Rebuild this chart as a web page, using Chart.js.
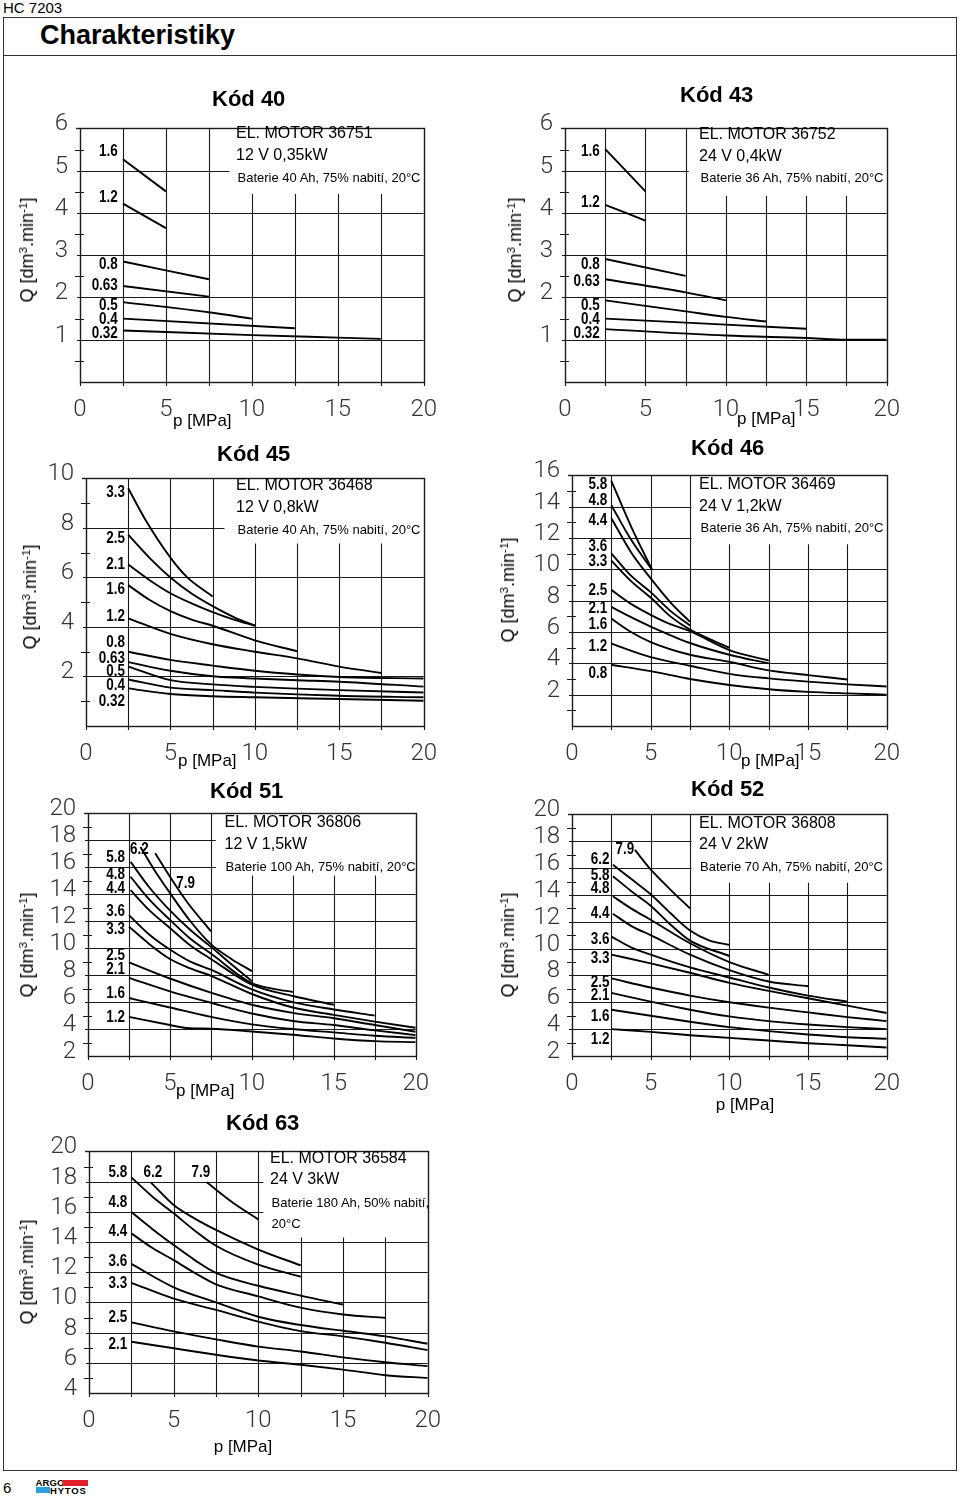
<!DOCTYPE html>
<html><head><meta charset="utf-8">
<script src="https://cdn.jsdelivr.net/npm/chart.js@4.4.0/dist/chart.umd.min.js"></script>
<style>
html,body{margin:0;padding:0;background:#fff}
body{width:960px;height:1501px;position:relative;overflow:hidden;font-family:'Liberation Sans',Arial,Helvetica,sans-serif;color:#000}
.t{position:absolute;white-space:nowrap;line-height:1}
.cv{position:absolute}
sup{font-size:65%;line-height:0;vertical-align:0.55em}
</style></head><body>
<div class="t" style="left:3px;top:0px;font-size:15px;">HC 7203</div>
<div style="position:absolute;left:3px;top:17px;width:952px;height:1452px;border:1.5px solid #333;box-sizing:content-box"></div>
<div style="position:absolute;left:3px;top:55px;width:954px;height:0;border-top:1.5px solid #333"></div>
<div class="t" style="left:40px;top:22px;font-size:27px;font-weight:bold;">Charakteristiky</div>
<div class="t" style="left:3px;top:1480px;font-size:15px;">6</div>
<div class="t" style="left:35.5px;top:1477.5px;font-size:9.5px;font-weight:bold;letter-spacing:0.1px">ARGO</div>
<div style="position:absolute;left:62.5px;top:1479.5px;width:25px;height:6px;background:#e3202c"></div>
<div style="position:absolute;left:35.5px;top:1487px;width:14px;height:6px;background:#2b9fd9"></div>
<div class="t" style="left:50px;top:1486px;font-size:9.5px;font-weight:bold;letter-spacing:0.8px">HYTOS</div>
<script>
// ---------------- DATA ----------------
const X_TICKS = [0, 5, 10, 15, 20];

// Kód 40
const k40_names = ['1.6','1.2','0.8','0.63','0.5','0.4','0.32'];
const k40_p = [[2.5,5],[2.5,5],[2.5,7.5],[2.5,7.5],[2.5,7.5,10],[2.5,12.5],[2.5,10,15,17.5]];
const k40_q = [[5.27,4.51],[4.22,3.64],[2.85,2.43],[2.27,2.02],[1.89,1.65,1.5],[1.5,1.27],[1.22,1.11,1.05,1.02]];
const k40_yTicks = [1,2,3,4,5,6];

// Kód 43
const k43_names = ['1.6','1.2','0.8','0.63','0.5','0.4','0.32'];
const k43_p = [[2.5,5],[2.5,5],[2.5,7.5],[2.5,7.5,10],[2.5,7.5,10,12.5],[2.5,15],[2.5,10,15,17.5,20]];
const k43_q = [[5.51,4.51],[4.19,3.82],[2.91,2.51],[2.43,2.12,1.93],[1.93,1.67,1.54,1.43],[1.5,1.26],[1.25,1.1,1.04,1.0,1.0]];
const k43_yTicks = [1,2,3,4,5,6];

// Kód 45
const k45_names = ['3.3','2.5','2.1','1.6','1.2','0.8','0.63','0.5','0.4','0.32'];
const k45_p = [
  [2.5,3.5,5,6,7.5],
  [2.5,3.75,5,6.25,7.5,8.75,10],
  [2.5,3.75,5,6.25,7.5,8.75,10],
  [2.5,3.75,5,6.25,7.5,10,12.5],
  [2.5,5,7.5,10,12.5,15,17.5],
  [2.5,5,7.5,10,12.5,15,20],
  [2.5,5,7.5,10,12.5,15,20],
  [2.5,5,7.5,10,12.5,15,20],
  [2.5,5,7.5,10,15,20],
  [2.5,5,7.5,10,15,20]];
const k45_q = [
  [9.6,8.35,6.8,6.0,5.23],
  [7.73,6.8,6.0,5.35,4.84,4.4,4.05],
  [6.52,5.9,5.36,4.95,4.6,4.3,4.05],
  [5.69,5.1,4.64,4.3,4.05,3.46,3.02],
  [4.35,3.72,3.3,3.0,2.73,2.4,2.14],
  [3.0,2.67,2.44,2.23,2.08,1.98,1.92],
  [2.58,2.23,2.01,1.92,1.85,1.79,1.59],
  [2.4,1.85,1.68,1.58,1.51,1.45,1.35],
  [1.88,1.55,1.45,1.35,1.22,1.16],
  [1.52,1.29,1.2,1.16,1.09,1.02]];
const k45_yTicks = [2,4,6,8,10];

// Kód 46
const k46_names = ['5.8','4.8','4.4','3.6','3.3','2.5','2.1','1.6','1.2','0.8'];
const k46_p = [
  [2.5,3.75,5.1],
  [2.5,3.75,5.1],
  [2.5,3.75,5,6.25,7.5],
  [2.5,3.75,5,6.25,7.5],
  [2.5,3.75,5,6.25,7.5,8.75,10],
  [2.5,3.75,5,6.25,7.5,10,12.5],
  [2.5,3.75,5,7.5,10,12.5],
  [2.5,3.75,5,7.5,10,12.5,15,17.5],
  [2.5,5,7.5,10,12.5,15,17.5,20],
  [2.5,5,7.5,10,12.5,15,17.5,20]];
const k46_q = [
  [15.65,12.75,9.95],
  [14.1,11.9,9.95],
  [13.27,11.1,9.42,7.9,6.65],
  [11.02,9.6,8.55,7.35,6.42],
  [10.56,9.25,8.2,7.0,6.15,5.55,5.0],
  [8.69,7.8,7.1,6.5,6.05,4.85,4.18],
  [7.6,6.95,6.35,5.3,4.55,4.0],
  [6.86,6.0,5.36,4.55,4.1,3.55,3.25,2.97],
  [5.26,4.4,3.85,3.33,3.04,2.83,2.66,2.52],
  [3.91,3.5,3.0,2.62,2.35,2.18,2.08,2.0]];
const k46_yTicks = [2,4,6,8,10,12,14,16];

// Kód 51
const k51_names = ['7.9','6.2','5.8','4.8','4.4','3.6','3.3','2.5','2.1','1.6','1.2'];
const k51_p = [
  [4.1,5,6,7.5],
  [3.2,4,5,6.25,7.5,8.75,10],
  [2.6,3.75,5,6.25,7.5,8.75,10],
  [2.6,3.75,5,6.25,7.5,10,11.25,12.5],
  [2.6,3.75,5,6.25,7.5,10,12.5,15],
  [2.5,3.75,5,6.25,7.5,10,12.5,15,17.5],
  [2.5,3.75,5,6.25,7.5,10,12.5,15,17.5,20],
  [2.5,5,7.5,10,12.5,15,17.5,20],
  [2.5,5,7.5,10,12.5,15,17.5,20],
  [2.5,5,7.5,10,12.5,15,17.5,20],
  [2.5,5,6,7.5,10,12.5,15,17.5,20]];
const k51_q = [
  [17.05,15.3,13.5,11.25],
  [17.5,15.9,14.1,12.0,10.3,9.2,8.3],
  [16.4,14.5,12.8,11.35,10.1,8.8,7.55],
  [15.3,13.6,12.1,10.7,9.6,7.4,7.0,6.75],
  [14.3,12.8,11.5,10.2,9.2,7.3,6.45,5.8],
  [12.45,11.0,9.9,9.0,8.4,6.95,6.0,5.45,5.0],
  [11.6,10.3,9.2,8.5,7.95,6.6,5.6,5.05,4.55,4.1],
  [8.95,7.75,6.7,5.8,5.2,4.8,4.3,3.8],
  [7.8,6.8,5.95,5.15,4.6,4.3,3.9,3.55],
  [6.3,5.6,4.9,4.35,4.0,3.75,3.5,3.35],
  [4.9,4.3,4.08,4.02,3.82,3.58,3.3,3.1,3.03]];
const k51_yTicks = [2,4,6,8,10,12,14,16,18,20];

// Kód 52
const k52_names = ['7.9','6.2','5.8','4.8','4.4','3.6','3.3','2.5','2.1','1.6','1.2'];
const k52_p = [
  [4.0,5,6.25,7.5],
  [2.6,3.75,5,6.25,7.5,8.75,10],
  [2.6,3.75,5,6.25,7.5,10],
  [2.6,3.75,5,7.5,10,12.5],
  [2.6,3.75,5,7.5,10,12.5,15],
  [2.5,3.75,5,7.5,10,12.5,15,17.5],
  [2.5,5,7.5,10,12.5,15,17.5,20],
  [2.5,5,7.5,10,12.5,15,17.5,20],
  [2.5,5,7.5,10,12.5,15,17.5,20],
  [2.5,5,7.5,10,12.5,15,17.5,20],
  [2.5,5,7.5,10,12.5,15,17.5,20]];
const k52_q = [
  [17.35,15.9,14.4,13.0],
  [16.25,15.2,14.05,12.65,11.35,10.6,10.28],
  [15.4,14.3,13.2,11.8,10.6,9.45],
  [13.9,13.0,12.15,10.4,9.0,8.05],
  [12.6,11.7,11.0,9.55,8.4,7.55,7.2],
  [10.9,10.1,9.55,8.6,7.85,7.1,6.5,6.05],
  [9.55,8.9,8.2,7.45,6.85,6.3,5.75,5.2],
  [7.78,7.1,6.5,6.0,5.6,5.25,4.9,4.6],
  [6.7,6.05,5.45,4.95,4.6,4.35,4.15,4.0],
  [5.45,5.0,4.55,4.15,3.85,3.6,3.4,3.28],
  [4.0,3.8,3.55,3.35,3.15,2.95,2.8,2.63]];
const k52_yTicks = [2,4,6,8,10,12,14,16,18,20];

// Kód 63
const k63_names = ['5.8','6.2','7.9','4.8','4.4','3.6','3.3','2.5','2.1'];
const k63_p = [
  [2.5,3.75,5,6.25,7.5,10,12.5],
  [3.65,5,6.25,7.5,10,12.5],
  [6.95,8.5,10],
  [2.5,3.75,5,6.25,7.5,10,12.5,15],
  [2.5,3.75,5,6.25,7.5,10,12.5,15,17.5],
  [2.5,5,7.5,10,12.5,15,17.5,20],
  [2.5,5,7.5,10,12.5,15,17.5,20],
  [2.5,5,7.5,10,12.5,15,17.5,20],
  [2.5,5,7.5,10,12.5,15,17.5,20]];
const k63_q = [
  [18.28,17.0,15.9,14.75,13.75,12.5,11.7],
  [17.95,16.45,15.55,14.8,13.5,12.45],
  [17.95,16.6,15.5],
  [15.98,14.85,13.8,12.8,11.95,11.1,10.45,9.86],
  [14.57,13.6,12.8,11.95,11.2,10.4,9.65,9.2,8.98],
  [12.55,11.0,10.0,9.05,8.5,8.12,7.75,7.26],
  [11.3,10.25,9.5,8.73,8.1,7.75,7.33,6.84],
  [8.68,8.08,7.55,7.07,6.75,6.36,6.04,5.78],
  [7.39,6.96,6.53,6.15,5.87,5.55,5.18,5.0]];
const k63_yTicks = [4,6,8,10,12,14,16,18,20];

// ---------------- LAYOUT ----------------
const range = (a, b, s) => { const r = []; for (let v = a; v <= b + 1e-9; v += s) r.push(+v.toFixed(3)); return r; };
const CHARTS = [
  { names:k40_names, p:k40_p, q:k40_q, yTicks:k40_yTicks, rect:[80,122,426,382], y:[0,6],
    yGrid:range(1,5,1), yMinor:range(0.5,5.5,1), box:[8.7,4.45], lblRight:2.2,
    lblQ:[5.48,4.38,2.79,2.31,1.84,1.49,1.18], special:{},
    title:['Kód 40',212,99], info:[['EL. MOTOR 36751',236,133,16],['12 V 0,35kW',236,155,16],['Baterie 40 Ah, 75% nabití, 20°C',237.5,177.5,13]],
    qT:[27,250], pT:[173,420,'l'] },
  { names:k43_names, p:k43_p, q:k43_q, yTicks:k43_yTicks, rect:[565,122,889,382], y:[0,6],
    yGrid:range(1,5,1), yMinor:range(0.5,5.5,1), box:[7.7,4.4], lblRight:2.16,
    lblQ:[5.48,4.28,2.79,2.41,1.84,1.49,1.18], special:{},
    title:['Kód 43',680,95], info:[['EL. MOTOR 36752',699,134,16],['24 V 0,4kW',699,156,16],['Baterie 36 Ah, 75% nabití, 20°C',700.5,177.5,13]],
    qT:[515,250], pT:[737,418,'l'] },
  { names:k45_names, p:k45_p, q:k45_q, yTicks:k45_yTicks, rect:[86,472,426,726], y:[0,10],
    yGrid:range(2,8,2), yMinor:range(1,9,2), box:[8.2,7.37], lblRight:2.31,
    lblQ:[9.47,7.61,6.55,5.56,4.46,3.39,2.76,2.25,1.66,1.03], special:{},
    title:['Kód 45',217,454], info:[['EL. MOTOR 36468',236,485,16],['12 V 0,8kW',236,507,16],['Baterie 40 Ah, 75% nabití, 20°C',237.5,529,13]],
    qT:[30,597], pT:[178,760,'l'] },
  { names:k46_names, p:k46_p, q:k46_q, yTicks:k46_yTicks, rect:[572,469,889,726], y:[0,16],
    yGrid:range(2,14,2), yMinor:range(1,15,2), box:[7.6,11.6], lblRight:2.24,
    lblQ:[15.47,14.47,13.16,11.54,10.54,8.73,7.55,6.55,5.12,3.43], special:{},
    title:['Kód 46',691,448], info:[['EL. MOTOR 36469',699,484,16],['24 V 1,2kW',699,506,16],['Baterie 36 Ah, 75% nabití, 20°C',700.5,527.5,13]],
    qT:[508,590], pT:[741,760,'l'] },
  { names:k51_names, p:k51_p, q:k51_q, yTicks:k51_yTicks, rect:[88,807,418,1056], y:[2,20],
    yGrid:range(4,18,2), yMinor:range(3,19,2), box:[7.8,15.4], lblRight:2.26,
    lblQ:[14.85,17.38,16.8,15.5,14.5,12.76,11.46,9.5,8.5,6.7,4.9],
    special:{0:[5.96,'center'],1:[2.56,'left']},
    title:['Kód 51',210,791], info:[['EL. MOTOR 36806',224.5,821.5,16],['12 V 1,5kW',224.5,844,16],['Baterie 100 Ah, 75% nabití, 20°C',225.5,866.5,13]],
    qT:[27,945], pT:[176,1090,'l'] },
  { names:k52_names, p:k52_p, q:k52_q, yTicks:k52_yTicks, rect:[572,808,889,1056], y:[2,20],
    yGrid:range(4,18,2), yMinor:range(3,19,2), box:[7.6,14.9], lblRight:2.38,
    lblQ:[17.43,16.7,15.48,14.54,12.72,10.77,9.32,7.51,6.57,5.04,3.3],
    special:{0:[2.76,'left']},
    title:['Kód 52',691,789], info:[['EL. MOTOR 36808',699,822.5,16],['24 V 2kW',699,844,16],['Baterie 70 Ah, 75% nabití, 20°C',700,866.5,13]],
    qT:[508,945], pT:[745,1104,'c'] },
  { names:k63_names, p:k63_p, q:k63_q, yTicks:k63_yTicks, rect:[89,1145,430,1393], y:[4,20],
    yGrid:range(6,18,2), yMinor:range(5,19,2), box:[10.3,14.3], lblRight:2.25,
    lblQ:[18.65,18.65,18.65,16.67,14.78,12.8,11.3,9.09,7.26],
    special:{1:[3.77,'center'],2:[6.6,'center']},
    title:['Kód 63',226,1123], info:[['EL. MOTOR 36584',270,1158,16],['24 V 3kW',270,1179,16],['Baterie 180 Ah, 50% nabití,',271.5,1202.5,13],['20°C',271.5,1223,13]],
    qT:[27,1272], pT:[243,1446,'c'] }
];

const TICK_FONT = "Roboto,'DejaVu Sans',sans-serif";
const LBL_FONT = "bold 16px 'Liberation Sans',Arial,sans-serif";
const GRID_COLOR = '#1a1a1a';

function addText(html, x, cy, size, opts = {}) {
  const d = document.createElement('div');
  d.className = 't';
  d.innerHTML = html;
  d.style.fontSize = size + 'px';
  d.style.top = (cy - 0.49 * size) + 'px';
  if (opts.bold) d.style.fontWeight = 'bold';
  d.style.left = x + 'px';
  if (opts.align === 'c') d.style.transform = 'translateX(-50%)';
  document.body.appendChild(d);
  return d;
}
function addRot(html, cx, cy, size) {
  const d = document.createElement('div');
  d.className = 't';
  d.innerHTML = html;
  d.style.fontSize = size + 'px';
  d.style.left = cx + 'px';
  d.style.top = cy + 'px';
  d.style.transform = 'translate(-50%,-50%) rotate(-90deg)';
  document.body.appendChild(d);
}

function makeGridPlugin(s) {
  return {
    id: 'hcgrid',
    beforeDatasetsDraw(chart) {
      const ctx = chart.ctx, a = chart.chartArea;
      const X = chart.scales.x, Y = chart.scales.y;
      ctx.save();
      ctx.strokeStyle = GRID_COLOR;
      ctx.lineWidth = 1.1;
      ctx.beginPath();
      const boxX = X.getPixelForValue(s.box[0]), boxY = Y.getPixelForValue(s.box[1]);
      [2.5,5,7.5,10,12.5,15,17.5].forEach(v => {
        const px = Math.round(X.getPixelForValue(v)) + 0.5;
        const top = v > s.box[0] ? boxY : a.top;
        ctx.moveTo(px, a.bottom); ctx.lineTo(px, top);
      });
      s.yGrid.forEach(v => {
        const py = Math.round(Y.getPixelForValue(v)) + 0.5;
        const right = v > s.box[1] ? boxX : a.right;
        ctx.moveTo(a.left - 3, py); ctx.lineTo(right, py);
      });
      s.yMinor.forEach(v => {
        const py = Math.round(Y.getPixelForValue(v)) + 0.5;
        ctx.moveTo(a.left - 5, py); ctx.lineTo(a.left + 4, py);
      });
      [0,2.5,5,7.5,10,12.5,15,17.5,20].forEach(v => {
        const px = Math.round(X.getPixelForValue(v)) + 0.5;
        ctx.moveTo(px, a.bottom); ctx.lineTo(px, a.bottom + 4);
      });
      ctx.stroke();
      ctx.lineWidth = 1.4;
      ctx.strokeRect(Math.round(a.left) + 0.5, Math.round(a.top) + 0.5, Math.round(a.right - a.left), Math.round(a.bottom - a.top));
      ctx.beginPath();
      ctx.moveTo(a.left - 4, Math.round(a.top) + 0.5); ctx.lineTo(a.left, Math.round(a.top) + 0.5);
      ctx.stroke();
      ctx.restore();
    },
    afterDatasetsDraw(chart) {
      const ctx = chart.ctx;
      const X = chart.scales.x, Y = chart.scales.y;
      ctx.save();
      ctx.fillStyle = '#000';
      ctx.font = LBL_FONT;
      ctx.textBaseline = 'middle';
      s.names.forEach((n, i) => {
        let px = s.lblRight, al = 'right';
        if (s.special[i]) { px = s.special[i][0]; al = s.special[i][1]; }
        ctx.save();
        ctx.translate(X.getPixelForValue(px), Y.getPixelForValue(s.lblQ[i]) + 1);
        ctx.scale(0.84, 1);
        ctx.textAlign = al;
        ctx.fillText(n, 0, 0);
        ctx.restore();
      });
      ctx.restore();
    }
  };
}

const PAD_L = 60, PAD_T = 20, PAD_R = 25, PAD_B = 45;
CHARTS.forEach((s) => {
  const [L, T, R, B] = s.rect;
  const wrap = document.createElement('div');
  wrap.className = 'cv';
  const w = R - L + PAD_L + PAD_R, h = B - T + PAD_T + PAD_B;
  wrap.style.left = (L - PAD_L) + 'px';
  wrap.style.top = (T - PAD_T) + 'px';
  wrap.style.width = w + 'px'; wrap.style.height = h + 'px';
  const cv = document.createElement('canvas');
  cv.width = w; cv.height = h;
  cv.style.width = w + 'px'; cv.style.height = h + 'px';
  wrap.appendChild(cv);
  document.body.appendChild(wrap);

  const datasets = s.names.map((n, i) => ({
    label: n,
    data: s.p[i].map((x, j) => ({ x: x, y: s.q[i][j] })),
    showLine: true,
    borderColor: '#000',
    borderWidth: 1.9,
    pointRadius: 0,
    tension: 0.4,
    cubicInterpolationMode: 'monotone',
    fill: false
  }));

  new Chart(cv, {
    type: 'scatter',
    data: { datasets },
    options: {
      responsive: false,
      animation: false,
      devicePixelRatio: 1,
      layout: { padding: { left: 0, top: PAD_T, right: PAD_R, bottom: 0 } },
      plugins: { legend: { display: false }, tooltip: { enabled: false }, title: { display: false } },
      scales: {
        x: {
          type: 'linear', min: 0, max: 20,
          grid: { display: false, drawTicks: false },
          border: { display: false },
          ticks: { font: { family: TICK_FONT, size: 24, weight: 300 }, color: '#333', padding: 14, maxRotation: 0, autoSkip: false },
          afterBuildTicks: sc => { sc.ticks = X_TICKS.map(v => ({ value: v })); },
          afterFit: sc => { sc.height = PAD_B; }
        },
        y: {
          type: 'linear', min: s.y[0], max: s.y[1],
          grid: { display: false, drawTicks: false },
          border: { display: false },
          ticks: { font: { family: TICK_FONT, size: 24, weight: 300 }, color: '#333', padding: 12, labelOffset: -4, autoSkip: false },
          afterBuildTicks: sc => { sc.ticks = s.yTicks.map(v => ({ value: v })); },
          afterFit: sc => { sc.width = PAD_L; }
        }
      }
    },
    plugins: [makeGridPlugin(s)]
  });

  addText(s.title[0], s.title[1], s.title[2], 22, { bold: true });
  s.info.forEach(t => addText(t[0], t[1], t[2], t[3]));
  addRot('Q [dm<sup>3</sup>.min<sup>-1</sup>]', s.qT[0], s.qT[1], 18);
  addText('p [MPa]', s.pT[0], s.pT[1], 17, { align: s.pT[2] });
});
</script>
</body></html>
